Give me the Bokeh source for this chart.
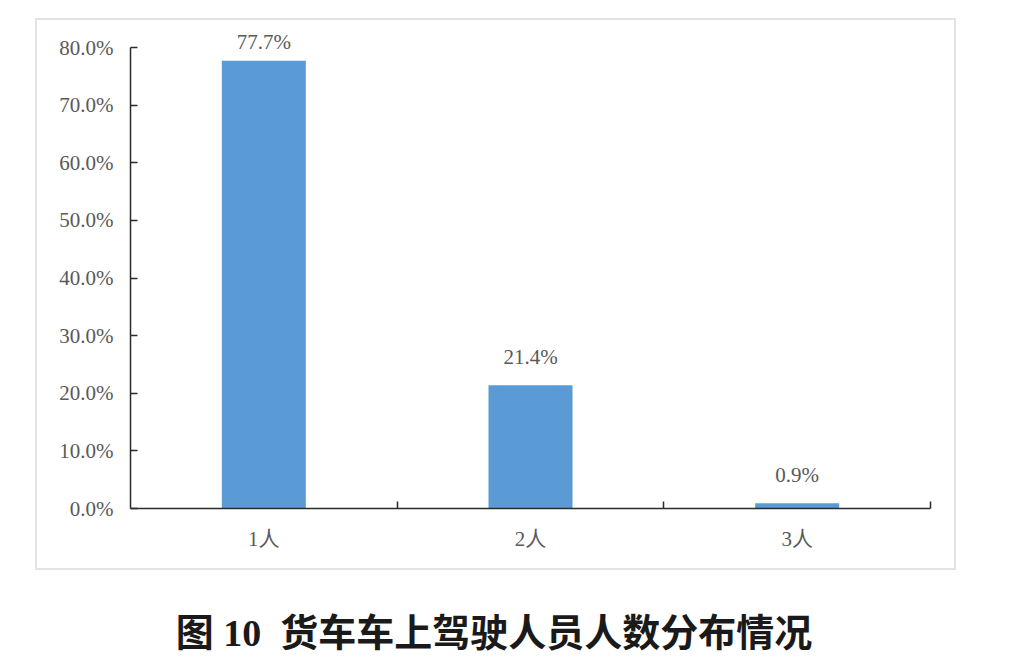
from bokeh.plotting import figure
from bokeh.models import (ColumnDataSource, Range1d, FixedTicker, PrintfTickFormatter,
                          LabelSet, Div, Spacer)
from bokeh.layouts import column, row
from bokeh.embed import file_html
from bokeh.resources import INLINE

# ---- data ----
CATEGORIES = ["1人", "2人", "3人"]
VALUES = [77.7, 21.4, 0.9]
Y_TICKS = [0, 10, 20, 30, 40, 50, 60, 70, 80]
TITLE = "图 10&nbsp;&nbsp;货车车上驾驶人员人数分布情况"

# ---- styles ----
BAR_COLOR = "#5B9BD5"
AXIS_COLOR = "#2b2b2b"
TEXT_COLOR = "#595959"
SERIF = "'Liberation Serif', 'Noto Sans CJK SC', serif"
W, H = 921, 552
MB_L, MB_R, MB_T, MB_B = 93, 28, 8, 64
AXIS_PX = 461                      # pixel length of the 0..Y_MAX axis
Y_MAX = Y_TICKS[-1]
frame_h = H - MB_T - MB_B
ppu = AXIS_PX / Y_MAX
Y_TOP = frame_h / ppu              # range end so that the axis spans AXIS_PX
LABEL_GAP = 21

n = len(CATEGORIES)
xs = [i + 0.5 for i in range(n)]
labels = [f"{v:.1f}%" for v in VALUES]
offsets = [min(LABEL_GAP, (Y_MAX - v) * ppu - 1.5) for v in VALUES]

src = ColumnDataSource(dict(x=xs, top=VALUES, label=labels, off=offsets))

p = figure(width=W, height=H, output_backend="svg", toolbar_location=None,
           x_range=Range1d(0, n), y_range=Range1d(0, Y_TOP),
           min_border_left=MB_L, min_border_right=MB_R,
           min_border_top=MB_T, min_border_bottom=MB_B)
p.styles = {"border": "2px solid #e3e3e3", "box-sizing": "border-box"}
p.background_fill_color = "white"
p.border_fill_color = "white"
p.outline_line_color = None
p.grid.visible = False

p.vbar(x="x", top="top", width=0.315, bottom=0, source=src,
       fill_color=BAR_COLOR, line_color=None)

p.add_layout(LabelSet(x="x", y="top", text="label", y_offset="off", source=src,
                      text_align="center", text_baseline="alphabetic",
                      text_font=SERIF, text_font_size="21px",
                      text_color=TEXT_COLOR))

# x axis
xa = p.xaxis[0]
xa.ticker = FixedTicker(ticks=xs, minor_ticks=[i + 1 for i in range(n)])
xa.major_label_overrides = {x: c for x, c in zip(xs, CATEGORIES)}
xa.major_tick_in = 0
xa.major_tick_out = 0
xa.minor_tick_in = 7
xa.minor_tick_out = 0
xa.minor_tick_line_color = AXIS_COLOR
xa.minor_tick_line_width = 1.5
xa.axis_line_color = AXIS_COLOR
xa.axis_line_width = 1.5
xa.major_label_standoff = 18
xa.major_label_text_font = SERIF
xa.major_label_text_font_size = "21px"
xa.major_label_text_color = TEXT_COLOR

# y axis
ya = p.yaxis[0]
ya.bounds = (0, Y_MAX)
ya.ticker = FixedTicker(ticks=Y_TICKS, minor_ticks=[])
ya.formatter = PrintfTickFormatter(format="%.1f%%")
ya.major_tick_in = 7
ya.major_tick_out = 0
ya.major_tick_line_color = AXIS_COLOR
ya.major_tick_line_width = 1.5
ya.minor_tick_line_color = None
ya.axis_line_color = AXIS_COLOR
ya.axis_line_width = 1.5
ya.major_label_standoff = 17
ya.major_label_text_font = SERIF
ya.major_label_text_font_size = "21px"
ya.major_label_text_color = TEXT_COLOR

title = Div(text=(f'<div style="width:978px;font-family:{SERIF};font-size:38px;font-weight:bold;'
                  f'color:#1a1a1a;text-align:center;line-height:40px;">{TITLE}</div>'),
            width=978, height=40, styles={"text-align": "center", "width": "978px"})

layout = column(Spacer(height=18), row(Spacer(width=35), p), Spacer(height=38), title)

open("out.html", "w").write(file_html(layout, INLINE))
